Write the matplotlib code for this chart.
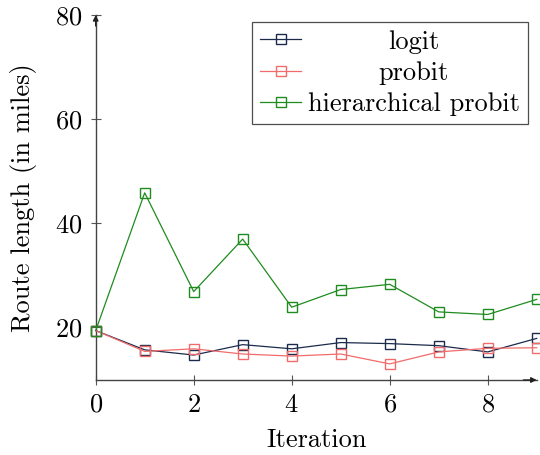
import numpy as np
import matplotlib
matplotlib.use("Agg")
import matplotlib.pyplot as plt

plt.rcParams['font.family'] = 'serif'
plt.rcParams['font.serif'] = ['cmr10', 'DejaVu Serif']
plt.rcParams['mathtext.fontset'] = 'cm'
plt.rcParams['axes.formatter.use_mathtext'] = True

# route lengths per iteration
iterations = np.arange(10)
logit = [19.3, 15.6, 14.6, 16.6, 15.8, 17.0, 16.8, 16.4, 15.2, 17.8]
probit = [19.3, 15.3, 15.8, 14.8, 14.4, 14.8, 12.9, 15.2, 15.9, 16.0]
hier_probit = [19.3, 45.8, 26.8, 36.9, 23.8, 27.2, 28.2, 22.9, 22.4, 25.3]
labels = ['logit', 'probit', 'hierarchical probit']
colors = ['#1c2b4c', '#f26b6b', '#1f8c1f']

fs = 19
fig = plt.figure(figsize=(5.4, 4.55), dpi=100)
ax = fig.add_axes([95.7 / 540, 1 - 380 / 455, 441 / 540, 365 / 455])

for ys, lab, c in zip([logit, probit, hier_probit], labels, colors):
    ax.plot(iterations, ys, color=c, lw=0.9, marker='s', ms=6.5,
            mfc='none', mec=c, mew=1.0, label=lab, clip_on=False, zorder=3)

ax.set_xlim(0, 9)
ax.set_ylim(9.8, 80)
ax.set_xticks([0, 2, 4, 6, 8])
ax.set_yticks([20, 40, 60, 80])
ax.tick_params(direction='inout', length=7, width=0.8, color='#555555',
               labelsize=fs, pad=6)
for s in ['top', 'right']:
    ax.spines[s].set_visible(False)
for s in ['left', 'bottom']:
    ax.spines[s].set_color('#444444')
    ax.spines[s].set_linewidth(1.0)

# arrow heads on the axis lines
ax.annotate('', xy=(0, 1), xytext=(0, 0.97), xycoords='axes fraction',
            arrowprops=dict(arrowstyle='-|>', color='#222222', lw=1.0,
                            mutation_scale=8, shrinkA=0, shrinkB=0))
ax.annotate('', xy=(1, 0), xytext=(0.97, 0), xycoords='axes fraction',
            arrowprops=dict(arrowstyle='-|>', color='#222222', lw=1.0,
                            mutation_scale=8, shrinkA=0, shrinkB=0))

ax.set_xlabel('Iteration', fontsize=fs, labelpad=8)
ax.set_ylabel('Route length (in miles)', fontsize=fs, labelpad=13)

leg = ax.legend(loc='upper right', bbox_to_anchor=(1 - 9 / 441, 1 - 7 / 365),
                bbox_transform=ax.transAxes, borderaxespad=0,
                fontsize=fs, frameon=True, fancybox=False, edgecolor='#222222',
                handlelength=1.55, handletextpad=0.25, labelspacing=0.28,
                borderpad=0.3)
leg.get_frame().set_linewidth(0.9)

# center the labels inside the legend box
renderer = fig.canvas.get_renderer()
texts = leg.get_texts()
widths = [t.get_window_extent(renderer).width for t in texts]
wmax = max(widths)
for t, w in zip(texts, widths):
    t.set_x((wmax - w) / 2)

fig.savefig('out.png', dpi=100)
